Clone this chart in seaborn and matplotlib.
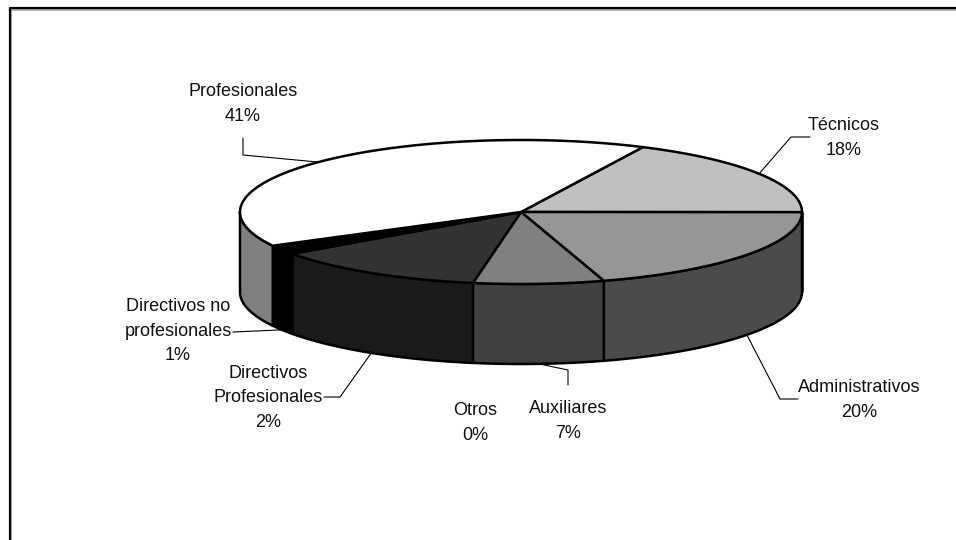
import numpy as np
import matplotlib
matplotlib.use("Agg")
import matplotlib.pyplot as plt
from matplotlib import font_manager
from matplotlib.patches import Polygon
import seaborn as sns

# ---- data (clockwise from the top) ----
categories = ["Técnicos", "Administrativos", "Auxiliares", "Otros",
              "Directivos\nProfesionales", "Directivos no\nprofesionales", "Profesionales"]
values = [17.9, 20.2, 7.5, 0.0, 12.4, 2.1, 39.9]          # slice sizes as drawn
pct_labels = ["18%", "20%", "7%", "0%", "2%", "1%", "41%"]  # printed labels
top_colors = ["#C0C0C0", "#969696", "#808080", "#808080", "#333333", "#000000", "#FFFFFF"]

sns.set_theme(style="white")
names = {f.name for f in font_manager.fontManager.ttflist}
fam = "Liberation Sans Narrow" if "Liberation Sans Narrow" in names else "Liberation Sans"
plt.rcParams["font.family"] = [fam, "DejaVu Sans"]

fig = plt.figure(figsize=(9.56, 5.4), dpi=100)
ax = fig.add_axes([0, 0, 1, 1])
ax.set_xlim(0, 956)
ax.set_ylim(540, 0)
ax.axis("off")

# frame
ax.plot([11, 11, 956], [540, 9.5, 9.5], color="#A0A0A0", lw=1.2, solid_capstyle="butt")
ax.plot([10, 10, 956], [540, 8, 8], color="black", lw=1.6, solid_capstyle="butt")

cx, cy, a, b, depth = 521, 212, 281, 72, 80
start = 64.3


def pt(theta_deg, dz=0.0):
    t = np.radians(theta_deg)
    return cx + a * np.cos(t), cy - b * np.sin(t) + dz


def shade(hexcol, f=0.5):
    r, g, bb = matplotlib.colors.to_rgb(hexcol)
    return (r * f, g * f, bb * f)


total = sum(values)
bounds = []
th = start
for v in values:
    th2 = th - 360.0 * v / total
    bounds.append((th2, th))
    th = th2

lw = 1.8
# side walls (front half: angles in [-180, 0])
for (t2, t1), col in zip(bounds, top_colors):
    lo, hi = max(t2, -180.0), min(t1, 0.0)
    if hi - lo <= 0:
        continue
    ts = np.linspace(lo, hi, 60)
    top = [pt(t) for t in ts]
    bot = [pt(t, depth) for t in ts[::-1]]
    ax.add_patch(Polygon(top + bot, closed=True, facecolor=shade(col),
                         edgecolor="black", lw=lw, joinstyle="round", zorder=2))

# top faces
for (t2, t1), col in zip(bounds, top_colors):
    if t1 - t2 <= 0:
        continue
    n = max(3, int(abs(t1 - t2)) + 2)
    ts = np.linspace(t1, t2, n)
    verts = [(cx, cy)] + [pt(t) for t in ts]
    ax.add_patch(Polygon(verts, closed=True, facecolor=col, edgecolor="black",
                         lw=lw, joinstyle="round", zorder=3))

# labels: text centre, knee point of leader (None = no leader)
label_pos = [(844, 138), (859, 400), (568, 421), (475, 423), (268, 398), (178, 331), (243, 104)]
knees = [[(810, 137), (791, 137)], [(798, 399), (780, 399)], [(568, 385), (568, 370)], None,
         [(324, 397), (340, 397)], [(233, 332)], [(243, 138), (243, 155)]]

for i, (cat, pl) in enumerate(zip(categories, pct_labels)):
    x, y = label_pos[i]
    ax.text(x, y, f"{cat}\n{pl}", ha="center", va="center", multialignment="center",
            fontsize=13, color="#111111", linespacing=1.6, zorder=5)
    if knees[i] is None:
        continue
    t2, t1 = bounds[i]
    mid = (t1 + t2) / 2.0
    if np.sin(np.radians(mid)) < 0:
        ex, ey = pt(mid, depth)
    else:
        ex, ey = pt(mid)
    xs = [k[0] for k in knees[i]] + [ex]
    ys = [k[1] for k in knees[i]] + [ey]
    ax.plot(xs, ys, color="black", lw=0.8, zorder=1)

fig.savefig("out.png", dpi=100, facecolor="white")
